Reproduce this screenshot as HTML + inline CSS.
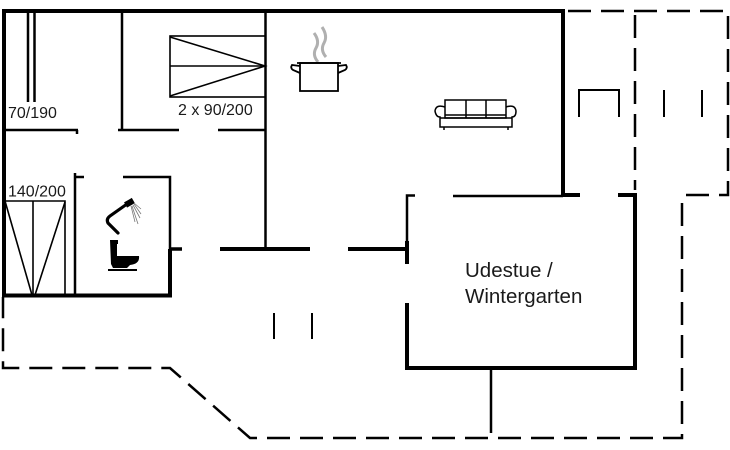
<!DOCTYPE html>
<html><head><meta charset="utf-8"><style>
html,body{margin:0;padding:0;background:#fff;}
svg{display:block;}
text{font-family:"Liberation Sans",Arial,sans-serif;fill:#1a1a1a;}
</style></head><body>
<svg width="730" height="450" viewBox="0 0 730 450" xmlns="http://www.w3.org/2000/svg">
<rect width="730" height="450" fill="#fff"/>
<g fill="none" stroke="#000" stroke-linecap="butt">
  <!-- thick walls -->
  <g stroke-width="4">
    <path d="M4,9 V297"/>
    <path d="M2,11 H563 V195 H580"/>
    <path d="M2,295.5 H172"/>
    <path d="M170,249 V297.5"/>
    <path d="M220,249 H310"/>
    <path d="M348,249 H409"/>
    <path d="M407,241 V264"/>
    <path d="M407,303 V368 H635 V195 H618"/>
  </g>
  <path d="M170,249 H182" stroke-width="3.5"/>
  <!-- thin walls -->
  <g stroke-width="2.5">
    <path d="M122,11 V130"/>
    <path d="M5,130 H78 M77,130 V134"/>
    <path d="M118,130 H179"/>
    <path d="M218,130 H265"/>
    <path d="M265.5,11 V249"/>
    <path d="M28,11 V102"/>
    <path d="M34.5,11 V102"/>
    <path d="M75,173 V297"/>
    <path d="M75,177 H84"/>
    <path d="M123,177 H170 V249"/>
    <path d="M415,195.5 H407 V249"/>
    <path d="M453,196 H563"/>
    <path d="M491,369 V433"/>
  </g>
  <!-- windows -->
  <g stroke-width="2">
    <path d="M579,117 V90 H619 V117"/>
    <path d="M664,90 V117"/>
    <path d="M702,90 V117"/>
    <path d="M274,313 V339"/>
    <path d="M312,313 V339"/>
  </g>
  <!-- dashed outline -->
  <g stroke-width="2.5" stroke-dasharray="23 10">
    <path d="M568,11 H728 V195 H683"/>
    <path d="M682,203 V438 H260 L250,438 L170,368 H3 V297"/>
    <path d="M635,15 V190"/>
  </g>
  <!-- bed 2x90/200 -->
  <g stroke-width="1.6">
    <rect x="170" y="36" width="95.5" height="61"/>
    <path d="M170,66 H265"/>
    <path d="M170,37 L265,66 L170,96"/>
  </g>
  <!-- bed 140/200 -->
  <g stroke-width="1.6">
    <path d="M5,201 H65 V295"/>
    <path d="M33,201 V295"/>
    <path d="M5,201 L32,295"/>
    <path d="M65,202 L35,295"/>
  </g>
  <!-- shower -->
  <path d="M118,233 L108,223 Q106,219 110,216 L127,204" stroke-width="3.2" stroke-linecap="round"/>
  <rect x="125" y="200" width="9" height="6" transform="rotate(-30 129 203)" fill="#000" stroke="none"/>
  <g stroke="#777" stroke-width="0.8">
    <path d="M131,206 L135,222"/>
    <path d="M132,206 L138,224"/>
    <path d="M133,205 L140,218"/>
    <path d="M134,204 L141,214"/>
    <path d="M134,203 L141,209"/>
  </g>
  <!-- pot -->
  <path d="M318,62 Q312,55 316,48 Q320,41 314,33" stroke="#b0b0b0" stroke-width="3"/>
  <path d="M326,57 Q320,50 324,43 Q328,36 322,27" stroke="#b0b0b0" stroke-width="3"/>
  <g stroke-width="1.8">
    <rect x="300" y="63" width="38" height="28" fill="#fff"/>
    <path d="M297,63 H341"/>
    <path d="M300,66 L292,65 Q290,68 293,70 L300,73"/>
    <path d="M338,66 L346,65 Q348,68 345,70 L338,73"/>
  </g>
  <!-- sofa -->
  <g stroke-width="1.5">
    <rect x="445" y="100" width="61" height="18"/>
    <path d="M466,100 V118 M486,100 V118"/>
    <path d="M445,115 H506"/>
    <path d="M445,107 Q436,104 435,111 Q436,117 440,117 V127 H512 V117 Q516,117 516,111 Q515,104 506,107"/>
    <path d="M440,118 H512"/>
    <path d="M444,127 V130 M508,127 V130"/>
  </g>
</g>
<!-- toilet -->
<path d="M110,240 H118 V244 H117 V256 H139 Q140,264 130,265 L127,268 H113 L111,264 Z" fill="#000"/>
<rect x="108" y="269" width="29" height="2" fill="#000"/>
<!-- labels -->
<text x="8" y="118" font-size="16">70/190</text>
<text x="178" y="115" font-size="16">2 x 90/200</text>
<text x="8" y="196.5" font-size="16">140/200</text>
<text x="465" y="277" font-size="20.5">Udestue /</text>
<text x="465" y="303" font-size="20.5">Wintergarten</text>
</svg>
</body></html>
